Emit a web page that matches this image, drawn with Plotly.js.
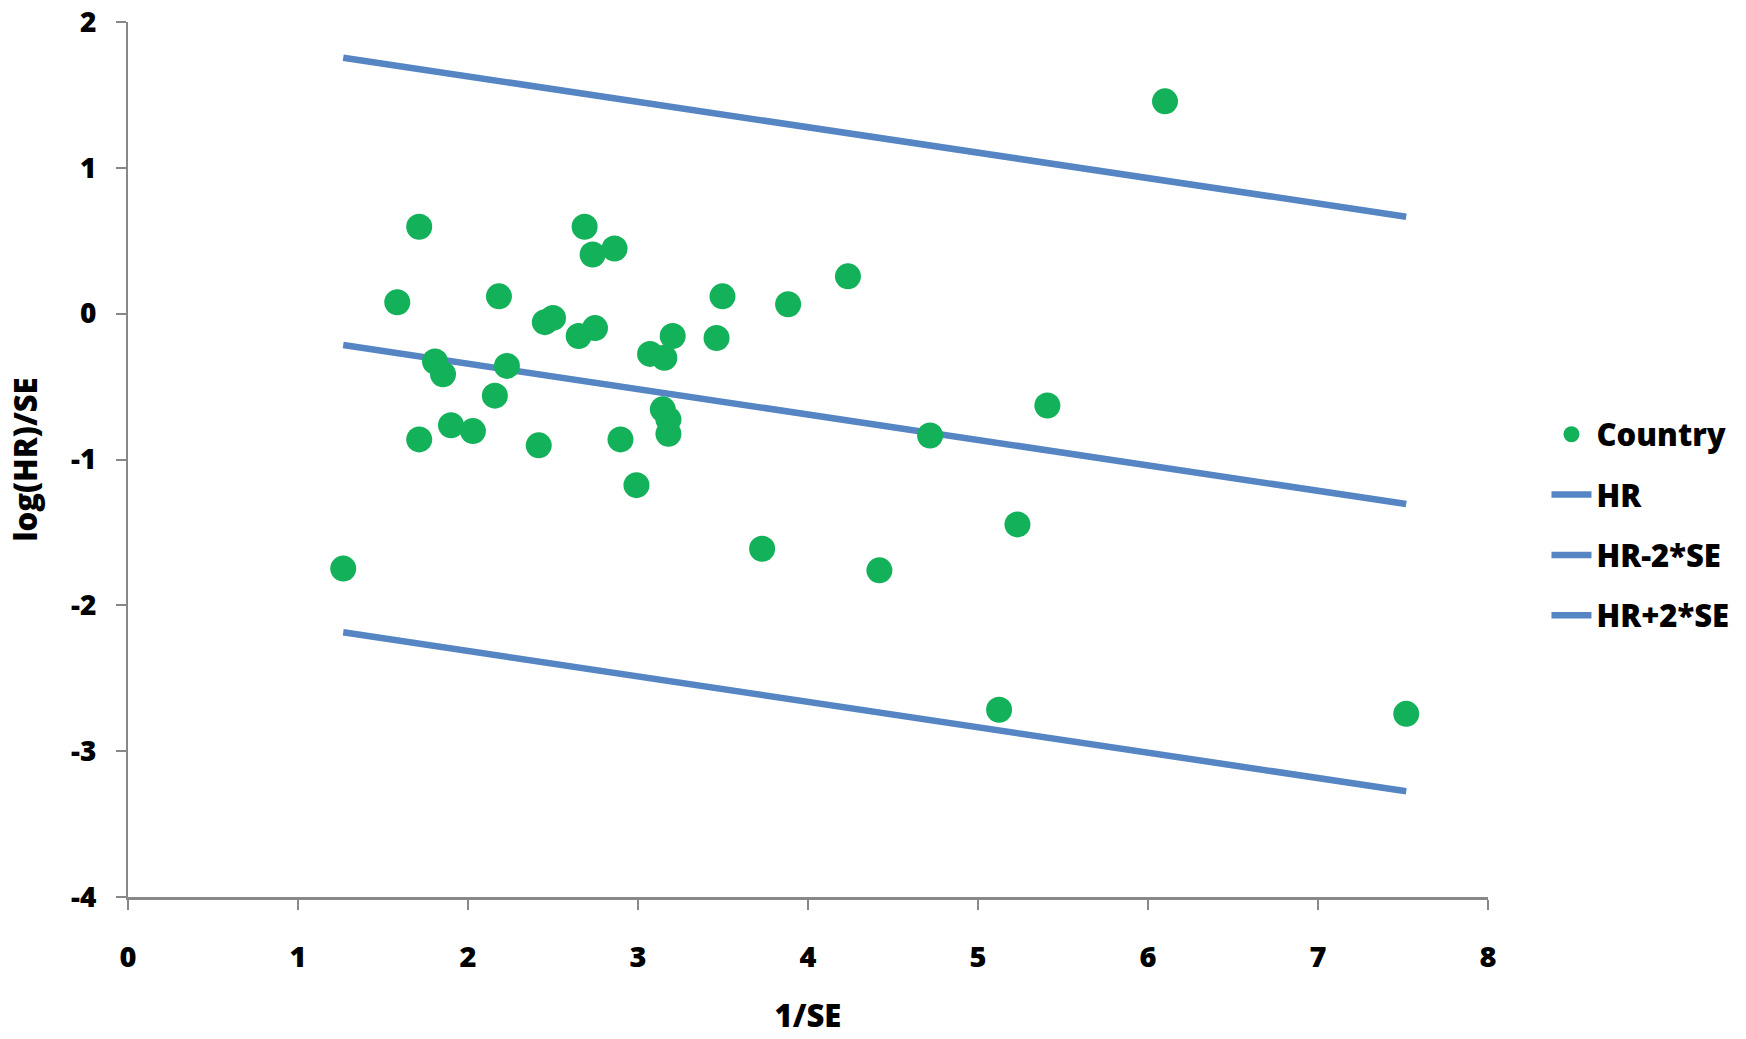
<!DOCTYPE html>
<html>
<head>
<meta charset="utf-8">
<script src="https://cdn.plot.ly/plotly-3.0.1.min.js"></script>
<style>
  html, body { margin: 0; padding: 0; background: #fff; }
  #chart { width: 1746px; height: 1039px; }
</style>
</head>
<body>
<div id="chart"></div>
<script>
// Galbraith-style plot: standardised log hazard ratio against precision
const countryPrecision = [
  1.266, 1.584, 1.713, 1.713, 1.806, 1.853, 1.900, 2.029, 2.158, 2.182,
  2.229, 2.416, 2.452, 2.500, 2.651, 2.686, 2.733, 2.747, 2.862, 2.897,
  2.991, 3.071, 3.146, 3.155, 3.179, 3.179, 3.204, 3.462, 3.497, 3.730,
  3.883, 4.235, 4.420, 4.718, 5.124, 5.232, 5.408, 6.100, 7.519
];
const countryZ = [
  -1.748, 0.078, 0.596, -0.862, -0.328, -0.415, -0.765, -0.805, -0.562, 0.119,
  -0.358, -0.903, -0.058, -0.029, -0.153, 0.596, 0.406, -0.099, 0.447, -0.862,
  -1.176, -0.276, -0.656, -0.303, -0.726, -0.824, -0.153, -0.167, 0.119, -1.612,
  0.065, 0.256, -1.760, -0.835, -2.716, -1.445, -0.630, 1.456, -2.744
];

// Reference lines spanning the observed precision range
const lineX = [1.266, 7.519];
const hrLine = [-0.215, -1.305];
const hrMinus2SE = [-2.185, -3.275];
const hrPlus2SE = [1.755, 0.665];

const xTicks = [0, 1, 2, 3, 4, 5, 6, 7, 8];
const yTicks = [-4, -3, -2, -1, 0, 1, 2];

const lineColor = '#5585C3';
const pointColor = '#13B159';
const FONT = '"Open Sans", "Liberation Sans", sans-serif';
const BOLD = 800;

const lineTrace = (name, ys, rank) => ({
  type: 'scatter', mode: 'lines', name: name,
  x: lineX, y: ys,
  line: { color: lineColor, width: 6.5 },
  legendgroup: name, legendrank: rank,
  hoverinfo: 'x+y+name'
});

const traces = [
  lineTrace('HR', hrLine, 2),
  lineTrace('HR-2*SE', hrMinus2SE, 3),
  lineTrace('HR+2*SE', hrPlus2SE, 4),
  {
    type: 'scatter', mode: 'markers', name: 'Country',
    x: countryPrecision, y: countryZ,
    marker: { color: pointColor, size: 26, line: { width: 0 } },
    legendgroup: 'Country', legendrank: 1
  }
];

const layout = {
  width: 1746, height: 1039,
  margin: { l: 128, r: 254, t: 22, b: 142 },
  paper_bgcolor: '#ffffff', plot_bgcolor: '#ffffff',
  font: { family: FONT, color: '#000', size: 26 },
  showlegend: true,
  legend: {
    x: 1.043, xanchor: 'left', y: 0.425, yanchor: 'middle',
    font: { family: FONT, size: 31, weight: BOLD, color: '#000' },
    tracegroupgap: 17, itemwidth: 40, bgcolor: 'rgba(0,0,0,0)'
  },
  xaxis: {
    range: [0, 8], tickvals: xTicks, ticktext: xTicks.map(String),
    showgrid: false, zeroline: false,
    showline: true, linecolor: '#888', linewidth: 3,
    ticks: 'outside', ticklen: 10, tickwidth: 1.5, tickcolor: '#888',
    ticklabelstandoff: 22, ticklabeloverflow: 'allow',
    tickfont: { family: FONT, size: 29, weight: BOLD, color: '#000' },
    title: { text: '1/SE', standoff: 32,
             font: { family: FONT, size: 31, weight: BOLD, color: '#000' } },
    automargin: false
  },
  yaxis: {
    range: [-4, 2.0001], tickvals: yTicks, ticktext: yTicks.map(String),
    showgrid: false, zeroline: false,
    showline: true, linecolor: '#888', linewidth: 2,
    ticks: 'outside', ticklen: 10, tickwidth: 1.5, tickcolor: '#888',
    ticklabelstandoff: 14, ticklabeloverflow: 'allow',
    tickfont: { family: FONT, size: 28, weight: BOLD, color: '#000' },
    title: { text: 'log(HR)/SE', standoff: 24,
             font: { family: FONT, size: 31, weight: BOLD, color: '#000' } },
    automargin: false
  }
};

Plotly.newPlot('chart', traces, layout, { displayModeBar: false, responsive: false });
</script>
</body>
</html>
